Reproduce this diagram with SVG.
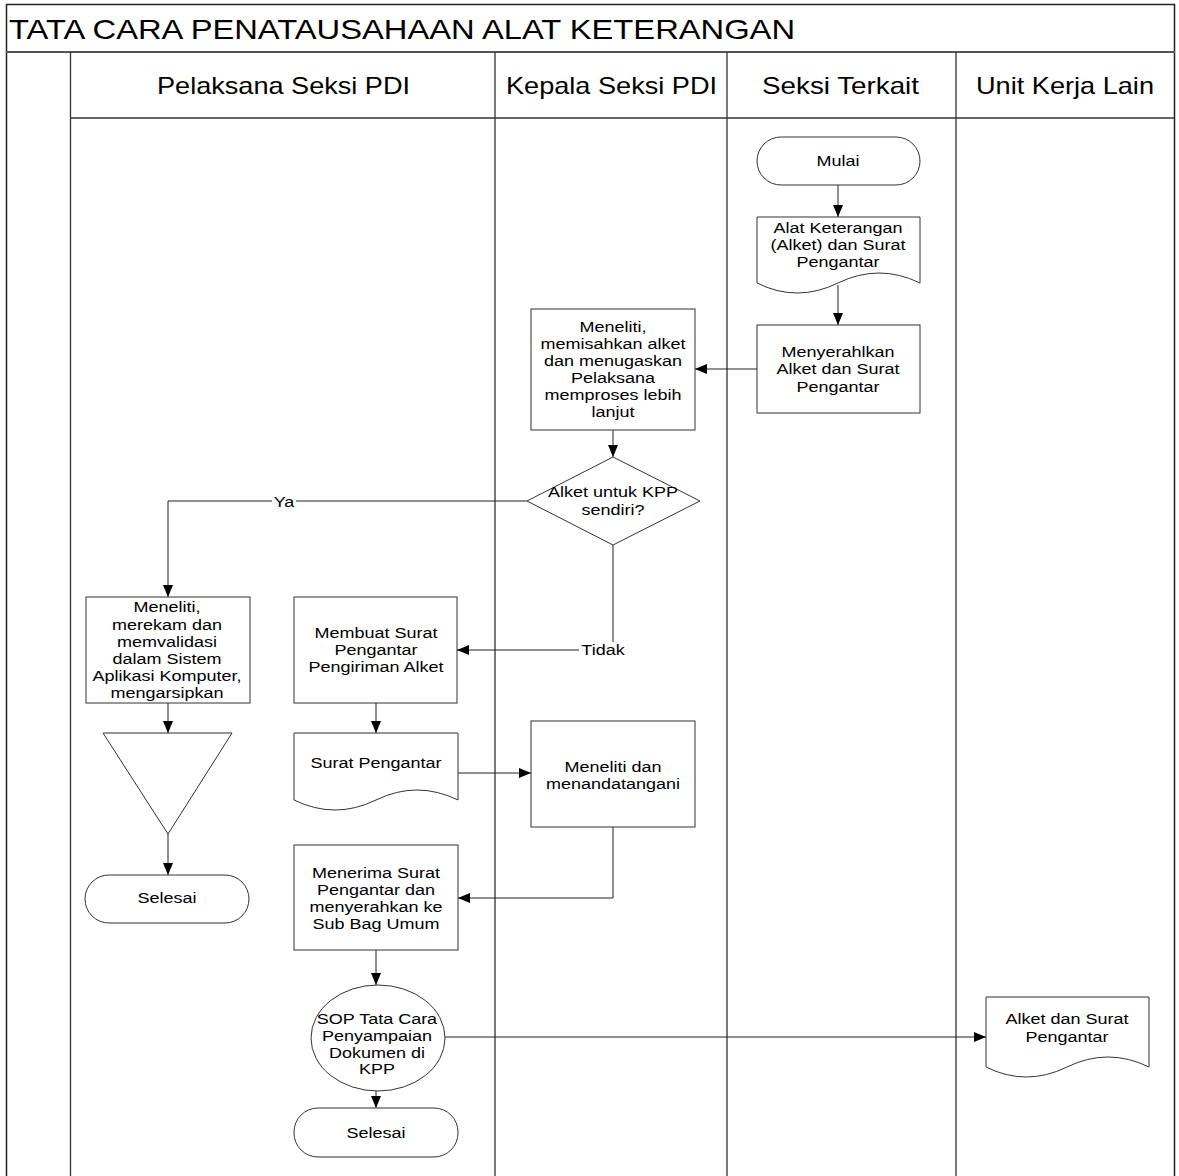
<svg xmlns="http://www.w3.org/2000/svg" width="1179" height="1176" viewBox="0 0 1179 1176">
<style>
.frame{fill:none;stroke:#222;stroke-width:1.5}
.lane{fill:none;stroke:#333;stroke-width:1.3}
.shape{fill:#fff;stroke:#333;stroke-width:1}
.conn{fill:none;stroke:#222;stroke-width:1}
.t{font-family:"Liberation Sans",Arial,sans-serif;font-size:15px;fill:#000;text-anchor:middle}
.hdr{font-family:"Liberation Sans",Arial,sans-serif;font-size:24px;fill:#000}
.ttl{font-family:"Liberation Sans",Arial,sans-serif;font-size:28px;fill:#000}
</style>
<defs>
<marker id="arr" markerUnits="userSpaceOnUse" markerWidth="12" markerHeight="10" refX="12" refY="5" orient="auto">
<path d="M0,0 L12,5 L0,10 Z" fill="#000"/>
</marker>
</defs>
<rect width="1179" height="1176" fill="#fff"/>

<g id="frame">
<path class="frame" d="M6.5,1176 V4.5 H1174.5 V1176"/>
<line x1="6" y1="52" x2="1175" y2="52" stroke="#555" stroke-width="2"/>
<line class="lane" x1="70.5" y1="118" x2="1174" y2="118"/>
<line class="lane" x1="70.5" y1="52" x2="70.5" y2="1176"/>
<line class="lane" x1="495" y1="52" x2="495" y2="1176"/>
<line class="lane" x1="727" y1="52" x2="727" y2="1176"/>
<line class="lane" x1="956" y1="52" x2="956" y2="1176"/>
<text class="ttl" x="9" y="39" textLength="786" lengthAdjust="spacingAndGlyphs">TATA CARA PENATAUSAHAAN ALAT KETERANGAN</text>
<text class="hdr" x="157" y="94" textLength="253" lengthAdjust="spacingAndGlyphs">Pelaksana Seksi PDI</text>
<text class="hdr" x="506" y="94" textLength="211" lengthAdjust="spacingAndGlyphs">Kepala Seksi PDI</text>
<text class="hdr" x="762" y="94" textLength="157" lengthAdjust="spacingAndGlyphs">Seksi Terkait</text>
<text class="hdr" x="976" y="94" textLength="178" lengthAdjust="spacingAndGlyphs">Unit Kerja Lain</text>
</g>

<g id="connectors">
<path class="conn" d="M838,185 V217" marker-end="url(#arr)"/>
<path class="conn" d="M838,285 V325" marker-end="url(#arr)"/>
<path class="conn" d="M757,369 H695" marker-end="url(#arr)"/>
<path class="conn" d="M613,430 V457" marker-end="url(#arr)"/>
<path class="conn" d="M527,501 H168 V597" marker-end="url(#arr)"/>
<path class="conn" d="M613,545 V650 H457" marker-end="url(#arr)"/>
<path class="conn" d="M168,703 V733" marker-end="url(#arr)"/>
<path class="conn" d="M168,834 V875" marker-end="url(#arr)"/>
<path class="conn" d="M376,703 V733" marker-end="url(#arr)"/>
<path class="conn" d="M458,773 H531" marker-end="url(#arr)"/>
<path class="conn" d="M613,827 V898 H458" marker-end="url(#arr)"/>
<path class="conn" d="M376,950 V985" marker-end="url(#arr)"/>
<path class="conn" d="M376,1091 V1108" marker-end="url(#arr)"/>
<path class="conn" d="M445,1037 H986" marker-end="url(#arr)"/>
<rect x="272" y="493" width="24" height="16" fill="#fff"/>
<g transform="translate(284 0) scale(1.2 1)"><text class="t" y="507">Ya</text></g>
<rect x="579" y="642" width="47" height="16" fill="#fff"/>
<g transform="translate(603 0) scale(1.2 1)"><text class="t" y="655">Tidak</text></g>
</g>

<g id="mulai">
<rect class="shape" x="757" y="137" width="163" height="48" rx="24"/>
<g transform="translate(838 0) scale(1.2 1)"><text class="t" y="166">Mulai</text></g>
</g>

<g id="doc-alket">
<path class="shape" d="M757,217 H920 V283 Q879,263 838,283 Q797,303 757,283 Z"/>
<g transform="translate(838 0) scale(1.2 1)"><text class="t" y="233">Alat Keterangan</text><text class="t" y="250">(Alket) dan Surat</text><text class="t" y="267">Pengantar</text></g>
</g>

<g id="menyerahkan">
<rect class="shape" x="757" y="325" width="163" height="88"/>
<g transform="translate(838 0) scale(1.2 1)"><text class="t" y="357">Menyerahlkan</text><text class="t" y="374">Alket dan Surat</text><text class="t" y="392">Pengantar</text></g>
</g>

<g id="meneliti-memisahkan">
<rect class="shape" x="531" y="309" width="164" height="121"/>
<g transform="translate(613 0) scale(1.2 1)"><text class="t" y="332">Meneliti,</text><text class="t" y="349">memisahkan alket</text><text class="t" y="366">dan menugaskan</text><text class="t" y="383">Pelaksana</text><text class="t" y="400">memproses lebih</text><text class="t" y="417">lanjut</text></g>
</g>

<g id="keputusan">
<path class="shape" d="M613,457 L700,501 L613,545 L527,501 Z"/>
<g transform="translate(613 0) scale(1.2 1)"><text class="t" y="497">Alket untuk KPP</text><text class="t" y="515">sendiri?</text></g>
</g>

<g id="meneliti-merekam">
<rect class="shape" x="86" y="597" width="164" height="106"/>
<g transform="translate(167 0) scale(1.2 1)"><text class="t" y="612">Meneliti,</text><text class="t" y="630">merekam dan</text><text class="t" y="647">memvalidasi</text><text class="t" y="664">dalam Sistem</text><text class="t" y="681">Aplikasi Komputer,</text><text class="t" y="698">mengarsipkan</text></g>
</g>

<g id="arsip">
<path class="shape" d="M103,733 H232 L168,834 Z"/>
</g>

<g id="selesai-1">
<rect class="shape" x="85" y="875" width="164" height="48" rx="24"/>
<g transform="translate(167 0) scale(1.2 1)"><text class="t" y="903">Selesai</text></g>
</g>

<g id="membuat-surat">
<rect class="shape" x="294" y="597" width="163" height="106"/>
<g transform="translate(376 0) scale(1.2 1)"><text class="t" y="638">Membuat Surat</text><text class="t" y="655">Pengantar</text><text class="t" y="672">Pengiriman Alket</text></g>
</g>

<g id="doc-surat-pengantar">
<path class="shape" d="M294,733 H458 V800 Q417,780 376,800 Q335,820 294,800 Z"/>
<g transform="translate(376 0) scale(1.2 1)"><text class="t" y="768">Surat Pengantar</text></g>
</g>

<g id="meneliti-menandatangani">
<rect class="shape" x="531" y="721" width="164" height="106"/>
<g transform="translate(613 0) scale(1.2 1)"><text class="t" y="772">Meneliti dan</text><text class="t" y="789">menandatangani</text></g>
</g>

<g id="menerima">
<rect class="shape" x="294" y="845" width="164" height="105"/>
<g transform="translate(376 0) scale(1.2 1)"><text class="t" y="878">Menerima Surat</text><text class="t" y="895">Pengantar dan</text><text class="t" y="912">menyerahkan ke</text><text class="t" y="929">Sub Bag Umum</text></g>
</g>

<g id="sop">
<ellipse class="shape" cx="378" cy="1038" rx="67" ry="53"/>
<g transform="translate(377 0) scale(1.2 1)"><text class="t" y="1024">SOP Tata Cara</text><text class="t" y="1041">Penyampaian</text><text class="t" y="1058">Dokumen di</text><text class="t" y="1074">KPP</text></g>
</g>

<g id="selesai-2">
<rect class="shape" x="294" y="1108" width="164" height="49" rx="24"/>
<g transform="translate(376 0) scale(1.2 1)"><text class="t" y="1138">Selesai</text></g>
</g>

<g id="doc-unit-kerja">
<path class="shape" d="M986,997 H1149 V1067 Q1108,1047 1067,1067 Q1026,1087 986,1067 Z"/>
<g transform="translate(1067 0) scale(1.2 1)"><text class="t" y="1024">Alket dan Surat</text><text class="t" y="1042">Pengantar</text></g>
</g>
</svg>
